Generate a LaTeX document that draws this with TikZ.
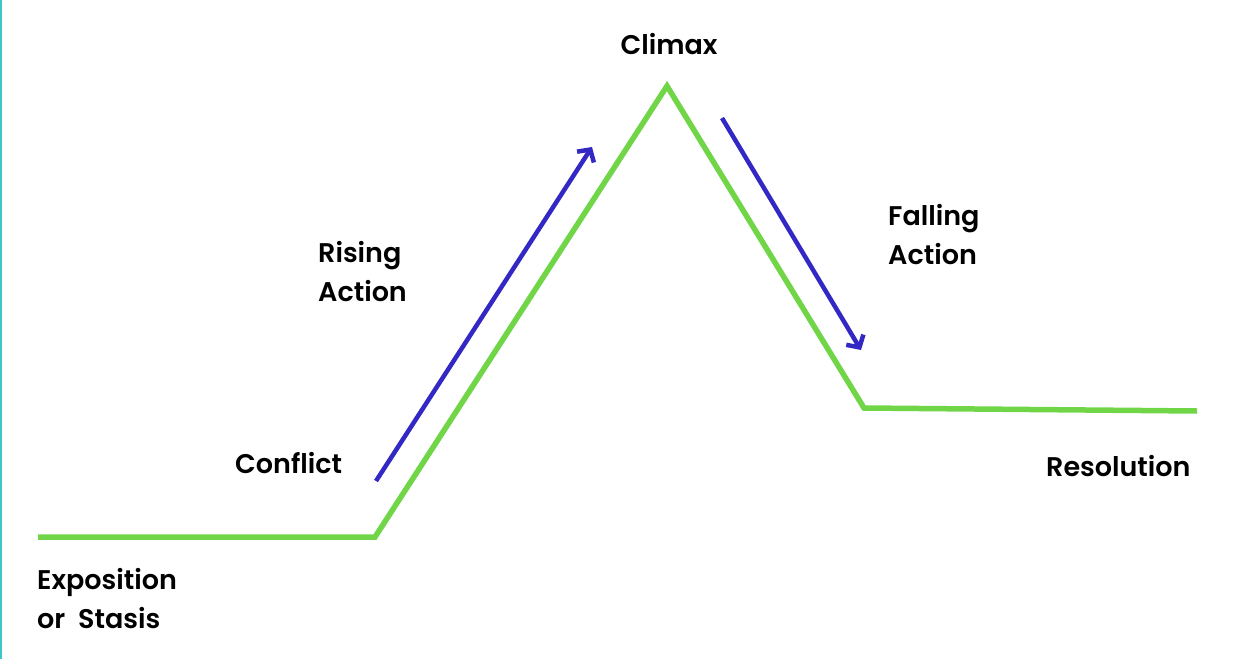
\documentclass[tikz,border=0pt]{standalone}
\usepackage{fontspec}
\setmainfont{Poppins}[UprightFont=* Medium,BoldFont=* SemiBold]
\usepackage{tikz}
\usetikzlibrary{arrows.meta}
\definecolor{plotgreen}{RGB}{112,214,72}
\definecolor{arrowblue}{RGB}{52,40,196}
\definecolor{edgeteal}{RGB}{60,200,200}
\tikzset{
	plotline/.style = {plotgreen, line width=5.5pt},
	actionarrow/.style = {arrowblue, line width=4.5pt, -{Straight Barb[length=9pt,width=20pt,line width=4.5pt]}},
	stagelabel/.style = {font=\fontsize{27}{39}\selectfont\bfseries, align=left, anchor=west, inner sep=0pt}
}

\begin{document}
\begin{tikzpicture}[x=1pt, y=-1pt]
			\useasboundingbox (0,0) rectangle (1248,659);
			\draw[edgeteal, line width=2pt] (1,0) -- (1,659);
			% plot line
			\coordinate (start) at (38,537);
			\coordinate (conflict) at (375,537);
			\coordinate (climax) at (667,86);
			\coordinate (fallend) at (864,408);
			\coordinate (finish) at (1197,411);
			\draw[plotline, line join=miter] (start) -- (conflict) -- (climax) -- (fallend) -- (finish);
			% arrows
			\coordinate (risefrom) at (376,481);
			\coordinate (riseto) at (592,147);
			\coordinate (fallfrom) at (722,118);
			\coordinate (fallto) at (861,350);
			\draw[actionarrow] (risefrom) -- (riseto);
			\draw[actionarrow] (fallfrom) -- (fallto);
			% labels
			\node[stagelabel, anchor=center] (climaxlabel) at (669,44) {Climax};
			\node[stagelabel] (risinglabel) at (318,272) {Rising\\Action};
			\node[stagelabel] (fallinglabel) at (888,235) {Falling\\Action};
			\node[stagelabel] (conflictlabel) at (235,463) {Conflict};
			\node[stagelabel] (resolutionlabel) at (1046,466) {Resolution};
			\node[stagelabel] (expolabel) at (37,599) {Exposition\\or~ Stasis};
		\end{tikzpicture}
\end{document}
